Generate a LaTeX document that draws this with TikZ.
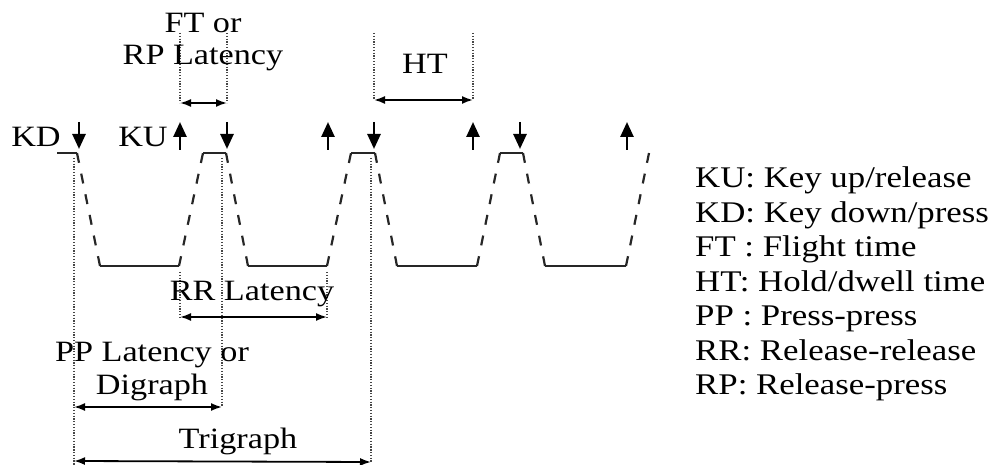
\documentclass[tikz,border=0pt]{standalone}
\usepackage{fontspec}
\setmainfont{Liberation Serif}
\newfontfamily\labfont{Liberation Serif}[FakeStretch=1.16]
\newfontfamily\legfont{Liberation Serif}[FakeStretch=1.16]
\usetikzlibrary{arrows.meta}
\begin{document}
\begin{tikzpicture}[x=1pt,y=-1pt,
  wave/.style={line width=2.2pt, black!85, line cap=butt},
  slope/.style={wave, dash pattern=on 10pt off 11.06pt},
  keyarrow/.style={line width=2.6pt, -{Triangle[length=15pt,width=13pt]}},
  dimline/.style={line width=1.8pt, {Latex[length=11pt,width=8pt]}-{Latex[length=11pt,width=8pt]}},
  guide/.style={line width=1.3pt, gray!55!black, dash pattern=on 1.3pt off 1.5pt},
  lab/.style={font=\labfont\fontsize{29.5}{34}\selectfont, inner sep=0pt, anchor=base},
  leg/.style={font=\legfont\fontsize{30}{34.5}\selectfont, inner sep=0pt, anchor=base west}]
\useasboundingbox (0,0) rectangle (997,465);

% waveform points
\coordinate (h1a) at (57,153);  \coordinate (h1b) at (77,153);
\coordinate (l1a) at (100,266); \coordinate (l1b) at (179,266);
\coordinate (h2a) at (203,153); \coordinate (h2b) at (226,153);
\coordinate (l2a) at (248,266); \coordinate (l2b) at (327,266);
\coordinate (h3a) at (351,153); \coordinate (h3b) at (375,153);
\coordinate (l3a) at (397,266); \coordinate (l3b) at (477,266);
\coordinate (h4a) at (500,153); \coordinate (h4b) at (523,153);
\coordinate (l4a) at (545,266); \coordinate (l4b) at (626,266);
\coordinate (wend) at (649,153);

\draw[wave] (h1a) -- (h1b);
\draw[wave] (l1a) -- (l1b);
\draw[wave] (h2a) -- (h2b);
\draw[wave] (l2a) -- (l2b);
\draw[wave] (h3a) -- (h3b);
\draw[wave] (l3a) -- (l3b);
\draw[wave] (h4a) -- (h4b);
\draw[wave] (l4a) -- (l4b);
\draw[slope] (h1b) -- (l1a);
\draw[slope] (l1b) -- (h2a);
\draw[slope] (h2b) -- (l2a);
\draw[slope] (l2b) -- (h3a);
\draw[slope] (h3b) -- (l3a);
\draw[slope] (l3b) -- (h4a);
\draw[slope] (h4b) -- (l4a);
\draw[slope] (l4b) -- (wend);

% key arrows
\foreach \n/\x in {d1/79, d2/227, d3/374, d4/520}{
  \coordinate (k\n s) at (\x,122); \coordinate (k\n e) at (\x,149);
  \draw[keyarrow] (k\n s) -- (k\n e);}
\foreach \n/\x in {u1/180, u2/328, u3/473, u4/627}{
  \coordinate (k\n s) at (\x,150); \coordinate (k\n e) at (\x,122);
  \draw[keyarrow] (k\n s) -- (k\n e);}

% guides
\coordinate (g1t) at (74,158);  \coordinate (g1b) at (74,465);
\coordinate (g2t) at (222,158); \coordinate (g2b) at (222,407);
\coordinate (g3t) at (371,158); \coordinate (g3b) at (371,462);
\coordinate (ft1t) at (180,33); \coordinate (ft1b) at (180,103);
\coordinate (ft2t) at (227,33); \coordinate (ft2b) at (227,103);
\coordinate (ht1t) at (374,33); \coordinate (ht1b) at (374,100);
\coordinate (ht2t) at (473,33); \coordinate (ht2b) at (473,100);
\coordinate (rr1t) at (180,272); \coordinate (rr1b) at (180,317);
\coordinate (rr2t) at (327,272); \coordinate (rr2b) at (327,317);
\coordinate (dg1) at (74,407);
\coordinate (tg1) at (74,461);

\draw[guide] (g1t) -- (g1b);
\draw[guide] (g2t) -- (g2b);
\draw[guide] (g3t) -- (g3b);
\draw[guide] (ft1t) -- (ft1b);
\draw[guide] (ft2t) -- (ft2b);
\draw[guide] (ht1t) -- (ht1b);
\draw[guide] (ht2t) -- (ht2b);
\draw[guide] (rr1t) -- (rr1b);
\draw[guide] (rr2t) -- (rr2b);

% dimension arrows
\draw[dimline] (ft1b) -- (ft2b);
\draw[dimline] (ht1b) -- (ht2b);
\draw[dimline] (rr1b) -- (rr2b);
\draw[dimline] (dg1) -- (g2b);
\draw[dimline] (tg1) -- (g3b);

% labels
\node[lab] (ft) at (203,33) {FT or};
\node[lab] (rp) at (203,65) {RP Latency};
\node[lab] (ht) at (425,74) {HT};
\node[lab] (kd) at (36,147) {KD};
\node[lab] (ku) at (143,147) {KU};
\node[lab] (rr) at (252,301) {RR Latency};
\node[lab] (pp) at (152,362) {PP Latency or};
\node[lab] (dig) at (152,394) {Digraph};
\node[lab] (tri) at (238,448) {Trigraph};

% legend
\node[leg] (L1) at (695,188) {KU: Key up/release};
\node[leg] (L2) at (695,222.5) {KD: Key down/press};
\node[leg] (L3) at (695,257) {FT : Flight time};
\node[leg] (L4) at (695,291.5) {HT: Hold/dwell time};
\node[leg] (L5) at (695,326) {PP : Press-press};
\node[leg] (L6) at (695,360.5) {RR: Release-release};
\node[leg] (L7) at (695,395) {RP: Release-press};
\end{tikzpicture}
\end{document}
